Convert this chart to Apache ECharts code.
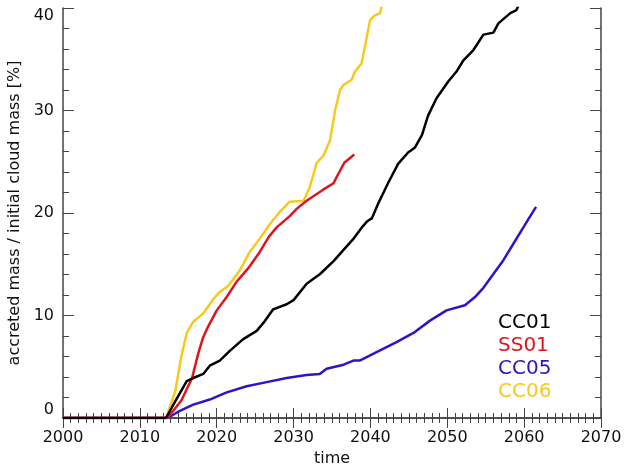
<!DOCTYPE html>
<html>
<head>
<meta charset="utf-8">
<script src="https://cdn.jsdelivr.net/npm/echarts@6/dist/echarts.min.js"></script>
<style>
  html, body { margin: 0; padding: 0; background: #fff; }
  #chart { width: 624px; height: 465px; }
</style>
</head>
<body>
<div id="chart"></div>
<script>
// [time, accreted mass %]
const cc01 = [[2000,0],[2013.4,0],[2014.8,1.9],[2016.1,3.6],[2016.95,3.9],[2018.25,4.3],[2019.1,5.1],[2020.4,5.6],[2021.7,6.55],[2023.45,7.7],[2025.2,8.5],[2026.1,9.3],[2027.35,10.6],[2029.1,11.1],[2030.0,11.5],[2031.7,13.1],[2033.45,14.05],[2035.2,15.3],[2036.5,16.4],[2037.7,17.4],[2039.0,18.7],[2039.6,19.2],[2040.2,19.5],[2041.0,20.9],[2042.35,23.0],[2043.6,24.8],[2044.9,25.9],[2045.8,26.4],[2046.7,27.6],[2047.5,29.5],[2048.6,31.2],[2050.1,32.8],[2051.2,33.8],[2052.1,34.9],[2053.4,35.9],[2054.7,37.4],[2056.0,37.6],[2056.65,38.5],[2058.2,39.5],[2059.0,39.8],[2059.3,40.3]];
const ss01 = [[2000,0],[2013.6,0],[2015.4,1.7],[2016.8,3.9],[2017.6,6.3],[2018.2,7.8],[2018.8,8.8],[2020.0,10.5],[2021.3,11.8],[2022.6,13.3],[2024.2,14.7],[2025.6,16.2],[2026.8,17.7],[2027.8,18.6],[2029.5,19.7],[2030.4,20.4],[2031.7,21.2],[2033.9,22.3],[2035.2,22.9],[2035.6,23.5],[2036.6,24.9],[2037.9,25.7]];
const cc05 = [[2000,0],[2013.6,0],[2015.2,0.7],[2016.95,1.3],[2019.1,1.8],[2021.3,2.5],[2023.9,3.1],[2026.5,3.5],[2029.1,3.9],[2031.7,4.2],[2033.4,4.3],[2034.3,4.8],[2036.5,5.2],[2037.8,5.6],[2038.6,5.6],[2041.25,6.6],[2043.4,7.4],[2045.6,8.3],[2047.75,9.5],[2049.9,10.5],[2052.3,11.0],[2053.6,11.8],[2054.7,12.7],[2056.0,14.05],[2057.3,15.4],[2058.6,17.0],[2059.9,18.6],[2060.8,19.7],[2061.55,20.6]];
const cc06 = [[2000,0],[2013.4,0],[2014.6,2.6],[2015.4,6.0],[2016.1,8.3],[2016.95,9.4],[2018.25,10.2],[2019.55,11.6],[2020.4,12.3],[2021.5,12.9],[2023.0,14.4],[2024.3,16.2],[2025.6,17.5],[2026.9,18.9],[2028.2,20.1],[2029.5,21.1],[2031.3,21.2],[2032.1,22.5],[2032.6,23.8],[2033.0,24.9],[2033.9,25.6],[2034.75,27.1],[2035.4,30.0],[2036.05,32.0],[2036.5,32.5],[2037.55,33.0],[2038.0,33.8],[2038.85,34.6],[2039.3,36.3],[2039.95,38.8],[2040.4,39.2],[2041.25,39.5],[2041.55,40.5]];

const names = ['CC01', 'SS01', 'CC05', 'CC06'];
const colors = ['#000000', '#e0141e', '#2c14c8', '#f8c81e'];
const seriesData = [cc01, ss01, cc05, cc06];

const font = 'DejaVu Sans';
const axisLine = { lineStyle: { color: '#444', width: 1.5 } };

function xAx(pos, labels) {
  return {
    type: 'value', position: pos, min: 2000, max: 2070, interval: 10,
    name: labels ? 'time' : '', nameLocation: 'middle', nameGap: 30,
    nameTextStyle: { fontFamily: font, fontSize: 16, color: '#111' },
    axisLine: axisLine,
    axisTick: { show: true, inside: true, length: 10, lineStyle: { color: '#444' } },
    minorTick: { show: true, splitNumber: 10, length: 5, lineStyle: { color: '#444' } },
    axisLabel: { show: labels, fontFamily: font, fontSize: 16, color: '#111', margin: 12,
                 formatter: v => String(v) },
    splitLine: { show: false }
  };
}
function yAx(pos, labels) {
  return {
    type: 'value', position: pos, min: 0, max: 40, interval: 10,
    name: labels ? 'accreted mass / initial cloud mass [%]' : '', nameLocation: 'middle', nameGap: 28,
    nameTextStyle: { fontFamily: font, fontSize: 16, color: '#111' },
    axisLine: axisLine,
    axisTick: { show: true, inside: true, length: 11, lineStyle: { color: '#444' } },
    minorTick: { show: true, splitNumber: 5, length: 6, lineStyle: { color: '#444' } },
    axisLabel: { show: labels, fontFamily: font, fontSize: 16, color: '#111', margin: 9,
                 verticalAlignMinLabel: 'bottom', verticalAlignMaxLabel: 'top' },
    splitLine: { show: false }
  };
}

const chart = echarts.init(document.getElementById('chart'));
chart.setOption({
  animation: false,
  backgroundColor: '#fff',
  grid: { left: 63, right: 23, top: 8, bottom: 47, containLabel: false, outerBoundsMode: 'none' },
  xAxis: [xAx('bottom', true), xAx('top', false)],
  yAxis: [yAx('left', true), yAx('right', false)],
  legend: {
    orient: 'vertical', left: 488, top: 308, itemGap: 3,
    itemWidth: 0, itemHeight: 0, icon: 'none', selectedMode: false,
    textStyle: { fontFamily: font, fontSize: 20, lineHeight: 20 },
    data: names.map((n, i) => ({ name: n, textStyle: { color: colors[i] } }))
  },
  series: [3, 2, 1, 0].map(i => ({
    name: names[i], type: 'line', data: seriesData[i],
    showSymbol: false, symbol: 'none', clip: true,
    lineStyle: { color: colors[i], width: 2.5 },
    itemStyle: { color: colors[i] }
  }))
});
</script>
</body>
</html>
